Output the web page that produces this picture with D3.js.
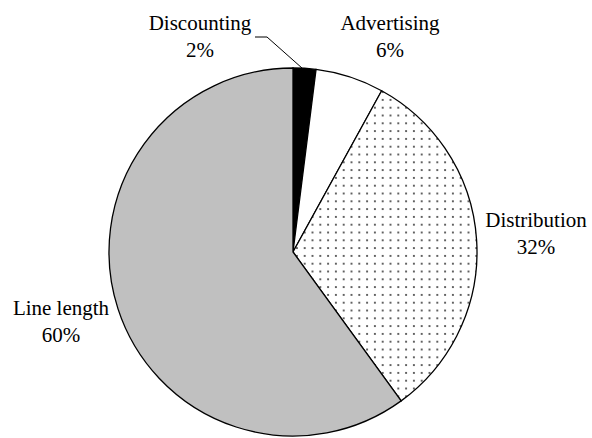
<!DOCTYPE html>
<html>
<head>
<meta charset="utf-8">
<script src="https://cdn.jsdelivr.net/npm/d3@7"></script>
<style>
  html, body { margin: 0; padding: 0; background: #fff; }
  svg { display: block; }
  text { font-family: "Liberation Serif", "Times New Roman", serif; font-size: 21px; fill: #000; }
</style>
</head>
<body>
<svg id="chart" width="592" height="438"></svg>
<script>
// Cost components, clockwise from 12 o'clock
const categories = ["Discounting", "Advertising", "Distribution", "Line length"];
const shares = [2, 6, 32, 60];
const shareLabels = ["2%", "6%", "32%", "60%"];

const width = 592, height = 438;
const cx = 293, cy = 252, radius = 184;

const svg = d3.select("#chart");

// dotted fill for the distribution slice
const defs = svg.append("defs");
const pat = defs.append("pattern")
  .attr("id", "dots")
  .attr("patternUnits", "userSpaceOnUse")
  .attr("width", 7.8).attr("height", 7.8);
pat.append("rect").attr("width", 7.8).attr("height", 7.8).attr("fill", "#fff");
pat.append("circle").attr("cx", 3.9).attr("cy", 3.9).attr("r", 1.05).attr("fill", "#3a3a3a");

const fillScale = d3.scaleOrdinal()
  .domain(categories)
  .range(["#000000", "#ffffff", "url(#dots)", "#c0c0c0"]);

const pie = d3.pie().sort(null).value(d => d.value);
const arcs = pie(categories.map((c, i) => ({ name: c, value: shares[i], label: shareLabels[i] })));
const arc = d3.arc().innerRadius(0).outerRadius(radius);

const g = svg.append("g").attr("transform", `translate(${cx},${cy})`);

g.selectAll("path.slice")
  .data(arcs)
  .join("path")
  .attr("class", "slice")
  .attr("d", arc)
  .attr("fill", d => fillScale(d.data.name))
  .attr("stroke", "#000")
  .attr("stroke-width", 1.3)
  .attr("stroke-linejoin", "miter");

// label placement (center x, first baseline) relative to the pie centre
const labelPlacement = {
  "Discounting": [-93, -222],
  "Advertising": [97, -222],
  "Distribution": [243, -25],
  "Line length": [-232, 63]
};
const lineGap = 27;

const labels = g.selectAll("g.label")
  .data(arcs)
  .join("g")
  .attr("class", "label")
  .attr("transform", d => `translate(${labelPlacement[d.data.name][0]},${labelPlacement[d.data.name][1]})`);

labels.append("text").attr("text-anchor", "middle").attr("y", 0).text(d => d.data.name);
labels.append("text").attr("text-anchor", "middle").attr("y", lineGap).text(d => d.data.label);

// leader line for the thin discounting slice
const disc = arcs[0];
const mid = (disc.startAngle + disc.endAngle) / 2;
const edge = [radius * Math.sin(mid) * 0.99, -radius * Math.cos(mid) * 0.99];
const lp = labelPlacement["Discounting"];
g.append("polyline")
  .attr("points", [[lp[0] + 55, lp[1] + 7], [lp[0] + 67, lp[1] + 7], edge].map(p => p.join(",")).join(" "))
  .attr("fill", "none")
  .attr("stroke", "#000")
  .attr("stroke-width", 1);
</script>
</body>
</html>
